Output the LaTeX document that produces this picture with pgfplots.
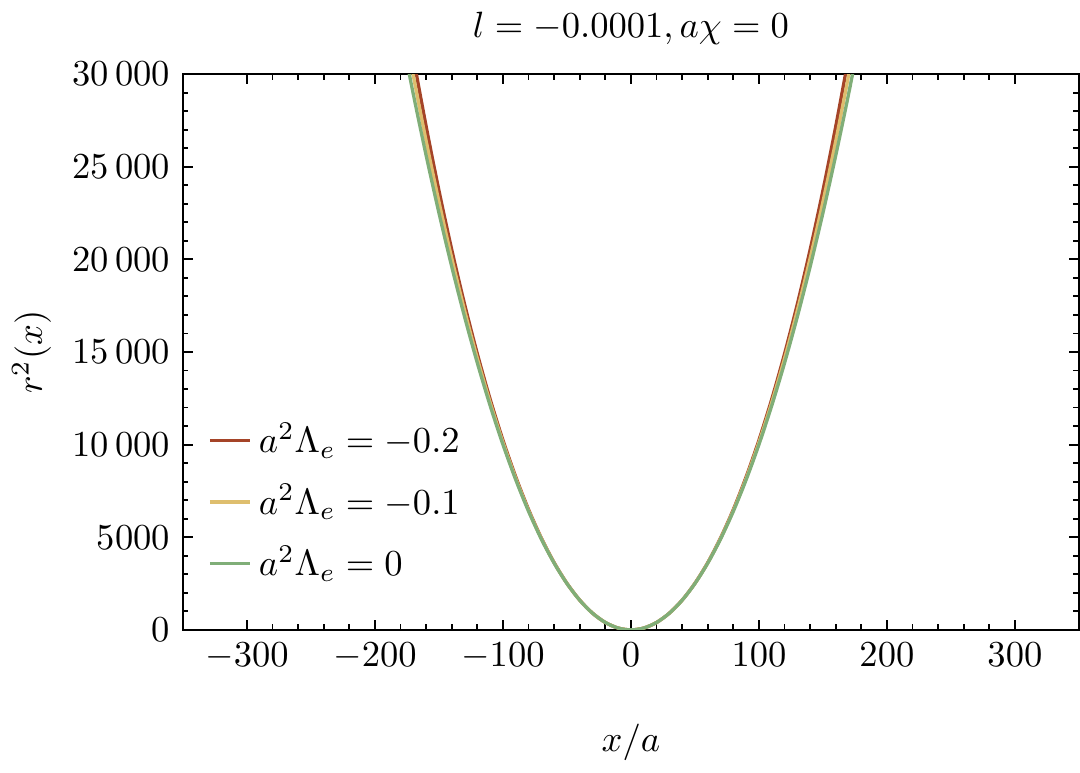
\documentclass[border=0pt]{standalone}
\usepackage{pgfplots}
\pgfplotsset{compat=1.18}

\definecolor{cBrown}{RGB}{165,68,40}
\definecolor{cYellow}{RGB}{222,190,110}
\definecolor{cGreen}{RGB}{128,174,120}

% r^2(x), x in steps of 10
\pgfplotstableread{
x     brown   yellow   green
-180  34919   33660    32400
-170  30905   29902    28900
-160  27173   26386    25600
-150  23715   23108    22500
-140  20522   20061    19600
-130  17586   17243    16900
-120  14898   14649    14400
-110  12451   12276    12100
-100  10240   10120    10000
-90   8258    8179     8100
-80   6498    6449     6400
-70   4958    4929     4900
-60   3631    3616     3600
-50   2515    2508     2500
-40   1606    1603     1600
-30   902     901      900
-20   400     400      400
-10   100     100      100
0     0       0        0
10    100     100      100
20    400     400      400
30    902     901      900
40    1606    1603     1600
50    2515    2508     2500
60    3631    3616     3600
70    4958    4929     4900
80    6498    6449     6400
90    8258    8179     8100
100   10240   10120    10000
110   12451   12276    12100
120   14898   14649    14400
130   17586   17243    16900
140   20522   20061    19600
150   23715   23108    22500
160   27173   26386    25600
170   30905   29902    28900
180   34919   33660    32400
}\curves

\begin{document}
\begin{tikzpicture}
\begin{axis}[
  scale only axis,
  width=245pt, height=152pt,
  xmin=-350, xmax=350, ymin=0, ymax=30000,
  xtick={-300,-200,...,300},
  minor x tick num=4,
  ytick={0,5000,...,30000},
  yticklabels={0,5000,10\,000,15\,000,20\,000,25\,000,30\,000},
  minor y tick num=4,
  scaled y ticks=false,
  tick align=inside,
  major tick length=2.8pt, minor tick length=1.5pt,
  every tick/.style={black, line width=0.5pt},
  axis line style={line width=0.6pt},
  xlabel={$x/a$}, ylabel={$r^2(x)$},
  xlabel style={yshift=-8pt},
  ylabel style={yshift=-1pt},
  title={$l=-0.0001, a\chi=0$},
  title style={yshift=-1.5pt},
  clip=true,
  legend cell align=left,
  legend style={at={(0.015,0.06)}, anchor=south west, draw=none, fill=none,
    row sep=3.2pt},
  legend image code/.code={\draw[#1] (0pt,0pt) -- (11pt,0pt);},
]
\addplot[cBrown, line width=0.9pt, smooth] table[x=x, y=brown] {\curves};
\addlegendentry{$a^2\Lambda_e=-0.2$}
\addplot[cYellow, line width=0.9pt, smooth] table[x=x, y=yellow] {\curves};
\addlegendentry{$a^2\Lambda_e=-0.1$}
\addplot[cGreen, line width=0.9pt, smooth] table[x=x, y=green] {\curves};
\addlegendentry{$a^2\Lambda_e=0$}
\end{axis}
\end{tikzpicture}
\end{document}
